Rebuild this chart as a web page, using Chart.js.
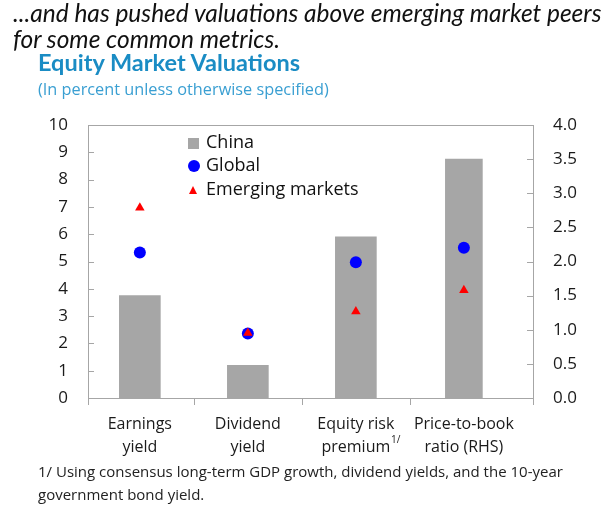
<!DOCTYPE html>
<html>
<head>
<meta charset="utf-8">
<script src="https://cdn.jsdelivr.net/npm/chart.js@4.4.1/dist/chart.umd.min.js"></script>
<style>
  body { margin: 0; background: #fff; font-family: "Open Sans", sans-serif; }
  #wrap { position: relative; width: 607px; height: 511px; overflow: hidden; }
  #chart { position: absolute; left: 0; top: 0; }
  .txt { position: absolute; white-space: nowrap; }
  #lead { left: 13px; top: 0px; font-family: Lato, sans-serif; font-size: 24.5px; font-style: italic; color: #111; line-height: 26px; }
  #title { left: 38px; top: 48px; font-family: Lato, sans-serif; font-size: 23.5px; font-weight: 700; color: #1a8cc4; }
  #subtitle { left: 38px; top: 78px; font-size: 16.3px; color: #3a9fd2; }
  #note { left: 38px; top: 460px; font-size: 15px; color: #222; line-height: 23px; }
  #sup { left: 391px; top: 432px; font-size: 10px; color: #222; }
  .leg { position: absolute; left: 206px; font-size: 18px; color: #111; white-space: nowrap; }
  .mk { position: absolute; }
</style>
</head>
<body>
<div id="wrap">
  <canvas id="chart" width="607" height="511"></canvas>
  <div class="txt" id="lead">...and has pushed valuations above emerging market peers<br>for some common metrics.</div>
  <div class="txt" id="title">Equity Market Valuations</div>
  <div class="txt" id="subtitle">(In percent unless otherwise specified)</div>
  <div class="txt" id="sup">1/</div>
  <div class="txt" id="note">1/ Using consensus long-term GDP growth, dividend yields, and the 10-year<br>government bond yield.</div>

  <div class="mk" style="left:188px;top:138px;width:11px;height:11px;background:#a6a6a6;"></div>
  <div class="leg" style="top:129px;">China</div>
  <div class="mk" style="left:188px;top:160px;width:12px;height:12px;border-radius:50%;background:#0000ff;"></div>
  <div class="leg" style="top:152px;">Global</div>
  <div class="mk" style="left:189px;top:186px;width:0;height:0;border-left:4.5px solid transparent;border-right:4.5px solid transparent;border-bottom:8px solid #ff0000;"></div>
  <div class="leg" style="top:176px;">Emerging markets</div>
</div>

<script>
// categories and values
const categories = [["Earnings", "yield"], ["Dividend", "yield"], ["Equity risk", "premium"], ["Price-to-book", "ratio (RHS)"]];
const chinaValues = [3.75, 1.2, 5.9, 3.5];
const globalValues = [5.33, 2.36, 4.97, 2.2];
const emergingValues = [6.97, 2.38, 3.17, 1.58];
const rhsCategory = 3; // price-to-book uses the right axis
const leftTicks = [0, 1, 2, 3, 4, 5, 6, 7, 8, 9, 10];
const rightTicks = [0, 0.5, 1, 1.5, 2, 2.5, 3, 3.5, 4];

const axisGray = '#a6a6a6';
const textColor = '#1a1a1a';

function pointsFor(values, rhs) {
    const out = [];
    values.forEach((v, i) => {
        if ((i === rhsCategory) === rhs) out.push({ x: i, y: v });
    });
    return out;
}

// inward tick marks, frame top line and category boundary ticks
const framePlugin = {
    id: 'frame',
    afterDraw(chart) {
        const { ctx, chartArea: a, scales } = chart;
        ctx.save();
        ctx.strokeStyle = axisGray;
        ctx.lineWidth = 1;
        ctx.beginPath();
        ctx.moveTo(a.left, a.top + 0.5);
        ctx.lineTo(a.right, a.top + 0.5);
        leftTicks.forEach(t => {
            const y = Math.round(scales.y.getPixelForValue(t)) + 0.5;
            ctx.moveTo(a.left, y);
            ctx.lineTo(a.left + 6, y);
        });
        rightTicks.forEach(t => {
            const y = Math.round(scales.y1.getPixelForValue(t)) + 0.5;
            ctx.moveTo(a.right - 6, y);
            ctx.lineTo(a.right, y);
        });
        const xs = [a.left, a.right];
        for (let i = 0; i < categories.length - 1; i++) xs.push(scales.x.getPixelForValue(i + 0.5));
        xs.forEach(x => {
            const px = Math.round(x) + 0.5;
            ctx.moveTo(px, a.bottom);
            ctx.lineTo(px, a.bottom + 7);
        });
        ctx.stroke();
        ctx.restore();
    }
};

new Chart(document.getElementById('chart'), {
    type: 'bar',
    data: {
        datasets: [
            {
                label: 'Emerging markets',
                type: 'scatter',
                data: pointsFor(emergingValues, false),
                yAxisID: 'y',
                pointStyle: 'triangle',
                pointRadius: 5.5,
                backgroundColor: '#ff0000',
                borderColor: '#ff0000',
                borderWidth: 0,
                order: 0
            },
            {
                label: 'Emerging markets (RHS)',
                type: 'scatter',
                data: pointsFor(emergingValues, true),
                yAxisID: 'y1',
                pointStyle: 'triangle',
                pointRadius: 5.5,
                backgroundColor: '#ff0000',
                borderColor: '#ff0000',
                borderWidth: 0,
                order: 0
            },
            {
                label: 'Global',
                type: 'scatter',
                data: pointsFor(globalValues, false),
                yAxisID: 'y',
                pointRadius: 6,
                backgroundColor: '#0000ff',
                borderColor: '#0000ff',
                borderWidth: 0,
                order: 1
            },
            {
                label: 'Global (RHS)',
                type: 'scatter',
                data: pointsFor(globalValues, true),
                yAxisID: 'y1',
                pointRadius: 6,
                backgroundColor: '#0000ff',
                borderColor: '#0000ff',
                borderWidth: 0,
                order: 1
            },
            {
                label: 'China',
                data: pointsFor(chinaValues, false),
                yAxisID: 'y',
                backgroundColor: '#a6a6a6',
                barThickness: 41,
                grouped: false,
                order: 2
            },
            {
                label: 'China (RHS)',
                data: pointsFor(chinaValues, true),
                yAxisID: 'y1',
                backgroundColor: '#a6a6a6',
                barThickness: 37,
                grouped: false,
                order: 2
            }
        ]
    },
    options: {
        responsive: false,
        animation: false,
        layout: { padding: { left: 0, right: 0, top: 125, bottom: 0 } },
        plugins: {
            legend: { display: false },
            tooltip: { enabled: false }
        },
        scales: {
            x: {
                type: 'linear',
                min: -0.48,
                max: 3.64,
                offset: false,
                bounds: 'data',
                afterBuildTicks: scale => { scale.ticks = categories.map((c, i) => ({ value: i })); },
                afterFit: scale => { scale.height = 113; },
                grid: { display: false, offset: false },
                border: { color: axisGray },
                ticks: {
                    autoSkip: false,
                    maxRotation: 0,
                    padding: 7,
                    color: textColor,
                    font: { family: 'Open Sans', size: 16, lineHeight: 1.45 },
                    callback: value => categories[value]
                }
            },
            y: {
                position: 'left',
                min: 0,
                max: 10,
                afterBuildTicks: scale => { scale.ticks = leftTicks.map(v => ({ value: v })); },
                afterFit: scale => { scale.width = 88; },
                grid: { display: false },
                border: { color: axisGray },
                ticks: {
                    padding: 12,
                    color: textColor,
                    font: { family: 'Open Sans', size: 17 }
                }
            },
            y1: {
                position: 'right',
                min: 0,
                max: 4,
                afterBuildTicks: scale => { scale.ticks = rightTicks.map(v => ({ value: v })); },
                afterFit: scale => { scale.width = 74; },
                grid: { display: false },
                border: { color: axisGray },
                ticks: {
                    padding: 12,
                    color: textColor,
                    font: { family: 'Open Sans', size: 17 },
                    callback: value => value.toFixed(1)
                }
            }
        }
    },
    plugins: [framePlugin]
});
</script>
</body>
</html>
